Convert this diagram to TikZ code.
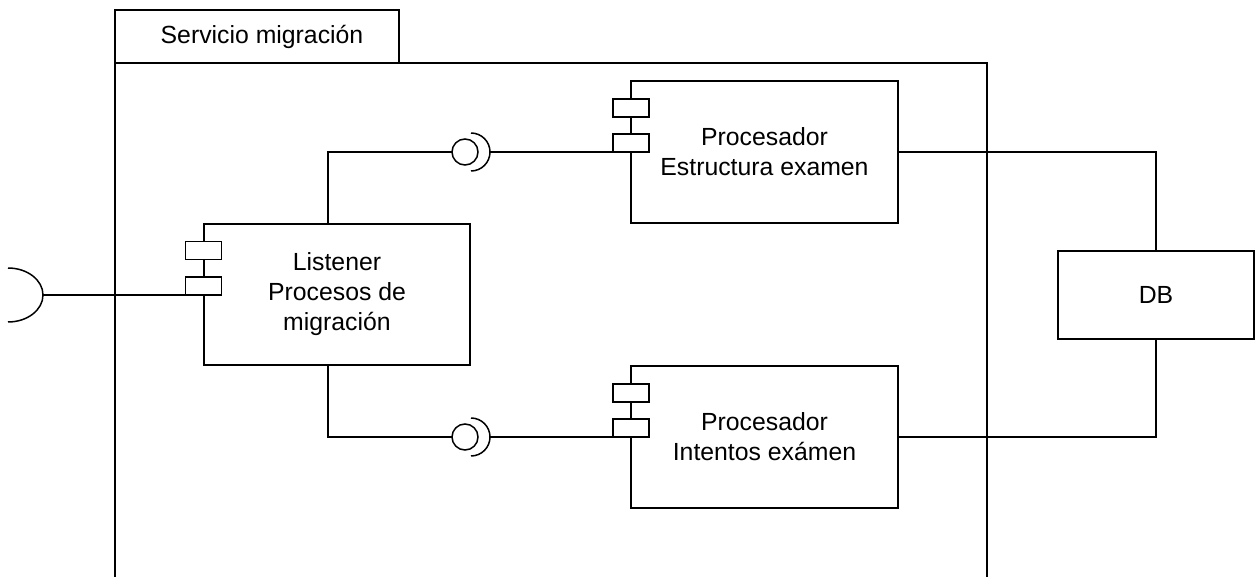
\documentclass[tikz,border=0pt]{standalone}
\usepackage{fontspec}
\setmainfont{Liberation Sans}
\usetikzlibrary{calc}
\begin{document}
\begin{tikzpicture}[x=1pt,y=-1pt,line width=1.5pt,
  every node/.style={font=\fontsize{24.8}{30}\selectfont,outer sep=0pt},
  tabbox/.style={draw,rectangle,minimum width=284pt,minimum height=53pt,inner sep=0pt},
  comp/.style={draw,fill=white,rectangle,minimum width=267pt,minimum height=142pt,align=center,inner sep=0pt},
  icon/.style={draw,fill=white,rectangle,minimum width=36pt,minimum height=18pt,inner sep=0pt},
  ball/.style={draw,fill=white,circle,minimum size=26pt,inner sep=0pt},
  dbbox/.style={draw,fill=white,rectangle,minimum width=196pt,minimum height=88pt,inner sep=0pt}]
\useasboundingbox (0,0) rectangle (1255,577);
% package frame
\node[tabbox] (tab) at (257,36.5) {\hspace*{10pt}Servicio migración};
\coordinate (fbl) at (115,578);
\coordinate (fbr) at (987,578);
\draw (fbl) -- (tab.south west) -- (tab.south west -| fbr) -- (fbr);
% components
\node[comp,minimum width=266pt,minimum height=141pt] (L) at (337,294.5) {Listener\\Procesos de\\migración};
\node[comp] (E) at (764.5,152) {Procesador\\Estructura examen};
\node[comp] (I) at (764.5,437) {Procesador\\Intentos exámen};
\node[dbbox] (DB) at (1156,295) {DB};
% component icons
\node[icon] (L1) at (203.5,250.5) {};
\node[icon] (L2) at (203.5,286) {};
\node[icon] (E1) at (631,108) {};
\node[icon] (E2) at (631,143) {};
\node[icon] (I1) at (631,393) {};
\node[icon] (I2) at (631,428) {};
% provided/required interfaces
\node[ball] (B1) at (465,152) {};
\node[ball] (B2) at (465,437) {};
\draw ($(B1.center)+(6,-19)$) arc[start angle=-90,end angle=90,radius=19];
\draw ($(B2.center)+(6,-19)$) arc[start angle=-90,end angle=90,radius=19];
\coordinate (S0) at (43,295);
\draw ($(S0)+(-35,-27)$) arc[start angle=-90,end angle=90,x radius=35,y radius=27];
% connectors
\draw (S0) -- (L2.south west);
\draw ([xshift=-9pt]L.north) |- (B1.west);
\draw ($(B1.center)+(25,0)$) -- (E2.south west);
\draw ([xshift=-9pt]L.south) |- (B2.west);
\draw ($(B2.center)+(25,0)$) -- (I2.south west);
\draw (E.east) -| (DB.north);
\draw (I.east) -| (DB.south);
\end{tikzpicture}
\end{document}
